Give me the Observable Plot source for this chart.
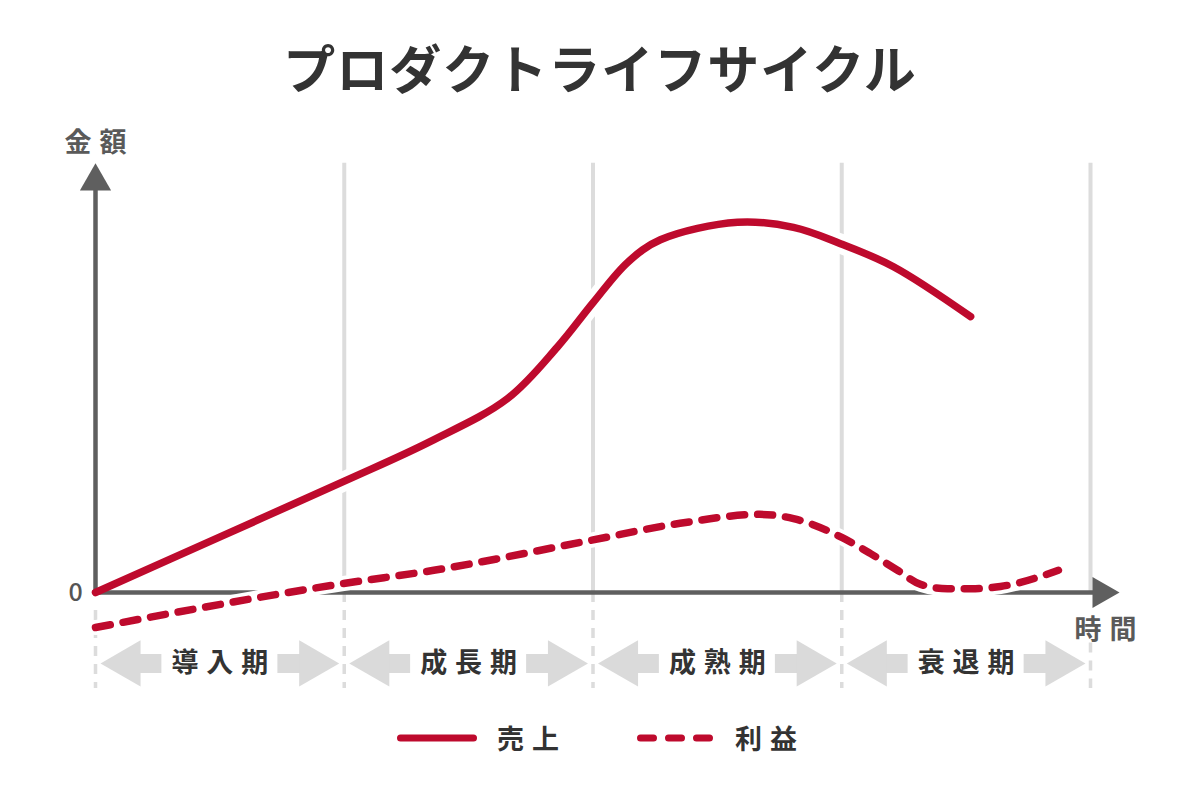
<!DOCTYPE html>
<html><head><meta charset="utf-8">
<script src="https://cdn.jsdelivr.net/npm/d3@7"></script>
<script src="https://cdn.jsdelivr.net/npm/@observablehq/plot@0.6"></script>
<style>
html,body{margin:0;padding:0;background:#fff;}
#wrap{position:relative;width:1200px;height:800px;overflow:hidden;font-family:"Noto Sans CJK JP","Noto Sans",sans-serif;}
#title{position:absolute;left:0;top:41px;width:1200px;text-align:center;font-size:52px;line-height:52px;font-weight:700;color:#333;margin:0;letter-spacing:1px;}
#chart{position:absolute;left:0;top:120px;}
#legend{position:absolute;top:720px;left:0;width:1200px;height:36px;}
.item{position:absolute;top:0;height:36px;display:flex;align-items:center;}
.item svg{display:block;}
.lab{font-size:27px;font-weight:700;color:#333;letter-spacing:8px;line-height:36px;}
</style></head>
<body><div id="wrap"><h1 id="title"></h1><div id="chart"></div><div id="legend"></div></div>
<script>
// ---- text ----
const titleText = "プロダクトライフサイクル";
const yAxisLabel = "金額";
const xAxisLabel = "時間";
const zeroLabel = "0";
const phaseNames = ["導入期", "成長期", "成熟期", "衰退期"];
const phaseStarts = [0, 1, 2, 3];
const boundaries = [0, 1, 2, 3, 4];
const seriesNames = ["売上", "利益"];

// ---- series (time in phase units, amount in % of axis height) ----
const salesTime  = [0, 0.503, 1.005, 1.347, 1.656, 1.857, 2.002, 2.139, 2.271, 2.581, 2.806, 2.995, 3.208, 3.518];
const salesValue = [0, 13.1, 26.2, 35.4, 45.4, 57.5, 68.0, 77.3, 82.6, 86.7, 85.5, 81.7, 76.3, 64.6];
const profitTime  = [0, 0.997, 1.36, 1.99, 2.35, 2.67, 2.806, 3.0, 3.116, 3.224, 3.317, 3.425, 3.537, 3.638, 3.871];
const profitValue = [-8.2, 2.1, 5.2, 12.2, 16.2, 18.3, 17.3, 12.9, 9.1, 5.2, 1.9, 0.9, 0.9, 1.4, 5.2];

// ---- styles ----
const RED = "#be0a2d", AXIS = "#5f5f5f", GRID = "#dcdcdc", ARROW = "#dadada";
const W = 1200, H = 580, mL = 95, mR = 110, mT = 45, mB = 108;
const xPx = (W - mL - mR) / 4;     // px per phase
const yPx = (H - mT - mB) / 100;   // px per unit

const sales = salesTime.map((t, i) => ({t, v: salesValue[i]}));
const profit = profitTime.map((t, i) => ({t, v: profitValue[i]}));
const phases = phaseNames.map((name, i) => ({name, start: phaseStarts[i], mid: phaseStarts[i] + 0.5, end: phaseStarts[i] + 1}));
const bounds = boundaries.map(b => ({b, low: b === 4 ? -11.8 : 0}));

const phaseY = -16.6;
const headCentroid = (5 + 26.7) / xPx;
const gapHalf = 58 / xPx;
const xTipCentroid = 4 + (29 - 18) / xPx;
const yTipCentroid = 100.5 - 18 / yPx;
const SALES_CURVE = "catmull-rom";
const PROFIT_CURVE = "monotone-x";

const chart = Plot.plot({
  width: W, height: H,
  marginLeft: mL, marginRight: mR, marginTop: mT, marginBottom: mB,
  x: {domain: [0, 4], axis: null},
  y: {domain: [0, 100], axis: null},
  style: {fontFamily: '"Noto Sans CJK JP", "Noto Sans", sans-serif', background: "#fff", overflow: "visible"},
  marks: [
    // grid
    Plot.ruleX(boundaries.slice(1), {y1: 0, y2: 100.5, stroke: GRID, strokeWidth: 4}),
    Plot.ruleX(bounds, {x: "b", y1: "low", y2: -22.5, stroke: GRID, strokeWidth: 3.5, strokeDasharray: "10,8"}),
    // phase arrows
    Plot.ruleY(phases, {y: () => phaseY, x1: d => d.start + headCentroid, x2: d => d.mid - gapHalf, stroke: ARROW, strokeWidth: 19}),
    Plot.ruleY(phases, {y: () => phaseY, x1: d => d.mid + gapHalf, x2: d => d.end - headCentroid, stroke: ARROW, strokeWidth: 19}),
    Plot.dot(phases, {x: d => d.start + headCentroid, y: () => phaseY, symbol: "triangle", r: 17.15, rotate: -90, fill: ARROW}),
    Plot.dot(phases, {x: d => d.end - headCentroid, y: () => phaseY, symbol: "triangle", r: 17.15, rotate: 90, fill: ARROW}),
    Plot.text(phases, {x: "mid", y: () => phaseY, text: "name", fontSize: 27, fontWeight: 700, fill: "#333", dx: 4}),
    // sales halo (breaks grid)
    Plot.line(sales, {x: "t", y: "v", curve: SALES_CURVE, stroke: "#fff", strokeWidth: 20}),
    // axes
    Plot.ruleX([0], {y1: 0, y2: yTipCentroid, stroke: AXIS, strokeWidth: 4.5, strokeLinecap: "square"}),
    Plot.ruleY([0], {x1: 0, x2: xTipCentroid, stroke: AXIS, strokeWidth: 4.5, strokeLinecap: "square"}),
    Plot.dot([0], {x: 0, y: yTipCentroid, symbol: "triangle", r: 11.6, fill: AXIS}),
    Plot.dot([0], {x: xTipCentroid, y: 0, symbol: "triangle", r: 11.6, rotate: 90, fill: AXIS}),
    Plot.text([zeroLabel], {x: 0, y: 0, text: d => d, dx: -20, fontSize: 25, fontWeight: 500, fill: "#555"}),
    Plot.text([yAxisLabel], {x: 0, y: 105.2, text: d => d, dx: 4, fontSize: 27, fontWeight: 700, fill: "#5a5a5a"}),
    Plot.text([xAxisLabel], {x: 4.06, y: -8.9, text: d => d, dx: 4, fontSize: 27, fontWeight: 700, fill: "#5a5a5a"}),
    // profit halo (breaks axis)
    Plot.line(profit, {x: "t", y: "v", curve: PROFIT_CURVE, stroke: "#fff", strokeWidth: 15}),
    // lines
    Plot.line(profit, {x: "t", y: "v", curve: PROFIT_CURVE, stroke: RED, strokeWidth: 7.5, strokeDasharray: "15,13", strokeLinecap: "round"}),
    Plot.line(sales, {x: "t", y: "v", curve: SALES_CURVE, stroke: RED, strokeWidth: 7.5, strokeLinecap: "round"})
  ]
});
d3.select(chart).selectAll("text").each(function() {
  if (this.textContent.length > 1) this.style.letterSpacing = "8px";
});
document.getElementById("chart").appendChild(chart);
document.getElementById("title").textContent = titleText;

// legend
const legend = d3.select("#legend");
const items = [
  {name: seriesNames[0], left: 397, w: 80, dash: null, gap: 20},
  {name: seriesNames[1], left: 637, w: 76, dash: "13,15", gap: 22}
];
items.forEach(it => {
  const div = legend.append("div").attr("class", "item").style("left", it.left + "px");
  const svg = div.append("svg").attr("width", it.w).attr("height", 14);
  svg.append("line").attr("x1", 3.5).attr("x2", it.w - 3.5).attr("y1", 7).attr("y2", 7)
    .attr("stroke", RED).attr("stroke-width", 7).attr("stroke-linecap", "round")
    .attr("stroke-dasharray", it.dash);
  div.append("span").attr("class", "lab").style("margin-left", it.gap + "px").text(it.name);
});
</script>
</body></html>
